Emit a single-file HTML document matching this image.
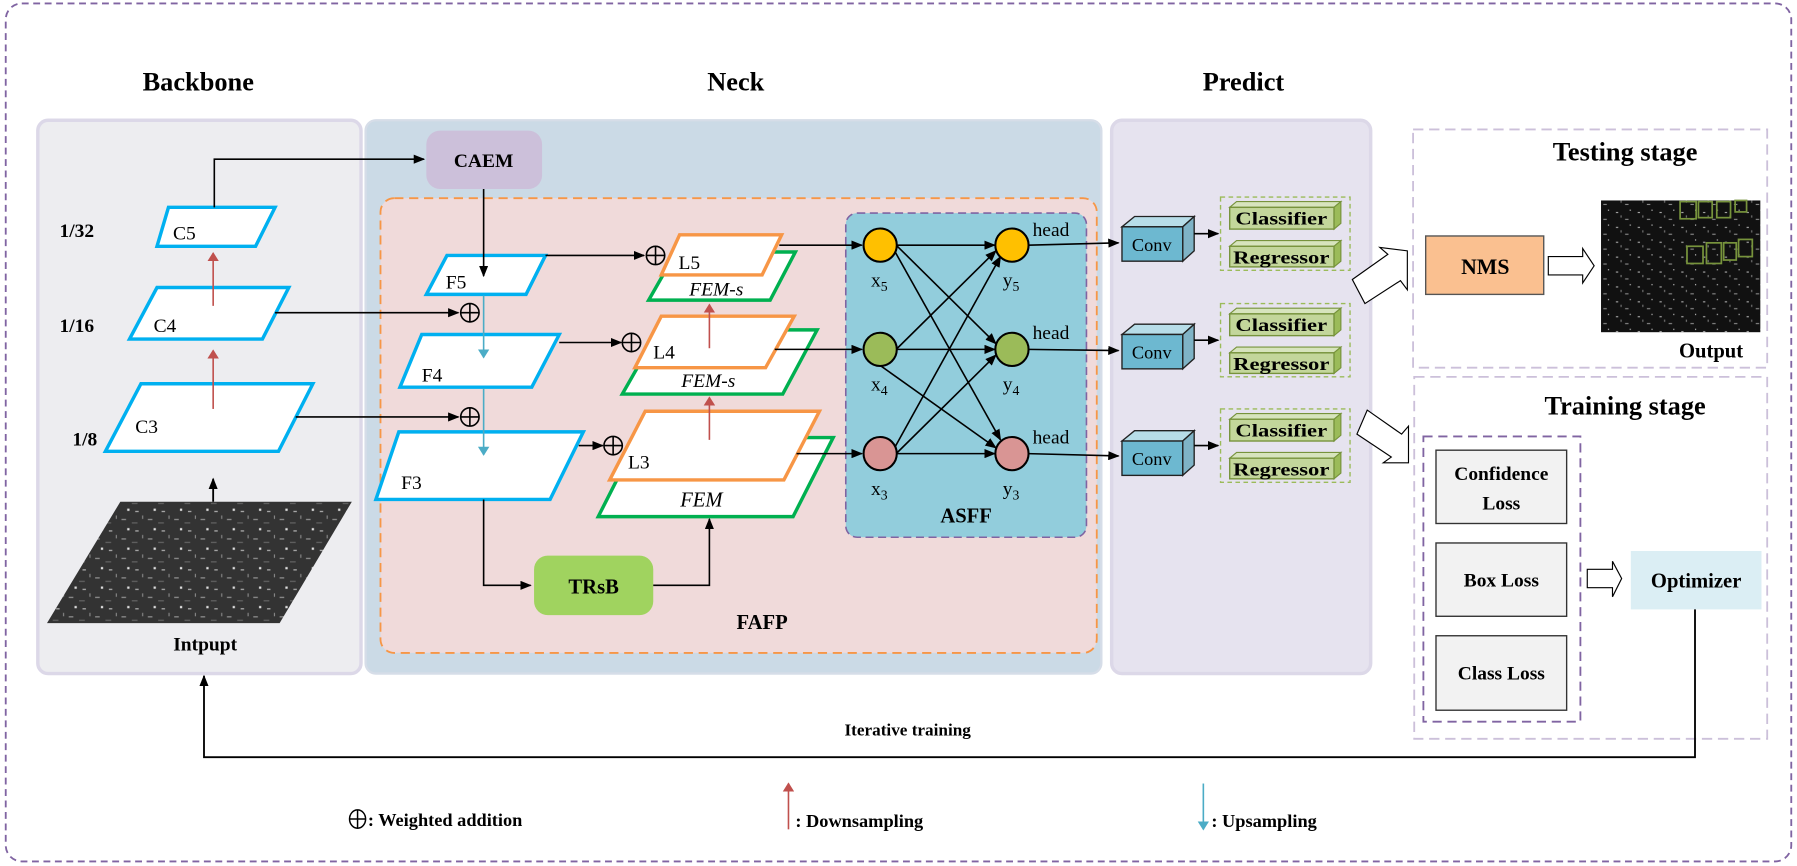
<!DOCTYPE html>
<html><head><meta charset="utf-8"><style>
html,body{margin:0;padding:0;background:#fff;}
svg{display:block;}
text{font-family:"Liberation Serif",serif;}
.b{font-weight:bold;}
</style></head><body>
<svg width="1797" height="866" viewBox="0 0 1568 756" preserveAspectRatio="none" xmlns="http://www.w3.org/2000/svg">
<defs>
<marker id="ar" markerWidth="10" markerHeight="8" refX="9" refY="4" orient="auto" markerUnits="userSpaceOnUse"><path d="M0,0 L10,4 L0,8 z" fill="#000"/></marker>
<marker id="arr" markerWidth="8" markerHeight="10" refX="7" refY="5" orient="auto" markerUnits="userSpaceOnUse"><path d="M0,0 L8,5 L0,10 z" fill="#c0504d"/></marker>
<marker id="arb" markerWidth="8" markerHeight="10" refX="7" refY="5" orient="auto" markerUnits="userSpaceOnUse"><path d="M0,0 L8,5 L0,10 z" fill="#4bacc6"/></marker>
<pattern id="sar" width="23" height="17" patternUnits="userSpaceOnUse"><rect width="23" height="17" fill="#333"/><rect x="3" y="4" width="3" height="1" fill="#bbb"/><rect x="14" y="11" width="4" height="1" fill="#999"/><rect x="9" y="8" width="1" height="3" fill="#888"/><rect x="19" y="2" width="2" height="2" fill="#ddd"/><rect x="0" y="14" width="5" height="1" fill="#666"/></pattern>
<pattern id="sar2" width="19" height="13" patternUnits="userSpaceOnUse"><rect width="19" height="13" fill="#111"/><rect x="4" y="3" width="2" height="1" fill="#aaa"/><rect x="12" y="9" width="3" height="1" fill="#888"/><rect x="8" y="6" width="1" height="2" fill="#777"/><rect x="16" y="1" width="1" height="1" fill="#ccc"/></pattern>
</defs>

<rect x="5" y="3" width="1558" height="749" rx="14" fill="none" stroke="#8064a2" stroke-width="1.6" stroke-dasharray="6,4"/>

<text x="173" y="79" class="b" font-size="23" text-anchor="middle">Backbone</text>
<text x="642" y="79" class="b" font-size="23" text-anchor="middle">Neck</text>
<text x="1085" y="79" class="b" font-size="23" text-anchor="middle">Predict</text>

<rect x="33" y="105" width="282" height="483" rx="9" fill="#ededf0" stroke="#dcd8e8" stroke-width="3"/>
<rect x="319" y="105" width="642" height="483" rx="9" fill="#cbdae6" stroke="#d6dde8" stroke-width="2"/>
<rect x="970" y="105" width="226" height="483" rx="9" fill="#e6e3ef" stroke="#dcd8e8" stroke-width="3"/>

<rect x="332" y="173" width="625" height="397" rx="12" fill="#f0dada" stroke="#f79646" stroke-width="1.6" stroke-dasharray="8,5"/>
<text x="665" y="549" class="b" font-size="18" text-anchor="middle">FAFP</text>

<text x="67" y="207" class="b" font-size="17" text-anchor="middle">1/32</text>
<text x="67" y="290" class="b" font-size="17" text-anchor="middle">1/16</text>
<text x="74" y="389" class="b" font-size="17" text-anchor="middle">1/8</text>

<polygon points="41,544 105,438 307,438 244,544" fill="url(#sar)"/>
<line x1="186" y1="438" x2="186" y2="418" stroke="#000" stroke-width="1.6" marker-end="url(#ar)"/>
<text x="179" y="568" class="b" font-size="17" text-anchor="middle">Intpupt</text>

<polygon points="123,335 273,335 243,394 92,394" fill="#fff" stroke="#00b0f0" stroke-width="3"/>
<text x="118" y="378" font-size="17">C3</text>
<polygon points="137,251 252,251 229,296 113,296" fill="#fff" stroke="#00b0f0" stroke-width="3"/>
<text x="134" y="290" font-size="17">C4</text>
<polygon points="147,181 240,181 223,215 137,215" fill="#fff" stroke="#00b0f0" stroke-width="3"/>
<text x="151" y="209" font-size="17">C5</text>
<line x1="186" y1="357" x2="186" y2="306" stroke="#c0504d" stroke-width="1.4" marker-end="url(#arr)"/>
<line x1="186" y1="267" x2="186" y2="221" stroke="#c0504d" stroke-width="1.4" marker-end="url(#arr)"/>

<polyline points="187,181 187,139 370,139" fill="none" stroke="#000" stroke-width="1.4" marker-end="url(#ar)"/>

<rect x="372" y="114" width="101" height="51" rx="12" fill="#ccc0da"/>
<text x="422" y="146" class="b" font-size="17" text-anchor="middle">CAEM</text>

<polygon points="390,223 476,223 459,257 372,257" fill="#fff" stroke="#00b0f0" stroke-width="3"/>
<text x="389" y="252" font-size="17">F5</text>
<polygon points="368,292 488,292 464,338 349,338" fill="#fff" stroke="#00b0f0" stroke-width="3"/>
<text x="368" y="333" font-size="17">F4</text>
<polygon points="348,377 509,377 480,436 328,436" fill="#fff" stroke="#00b0f0" stroke-width="3"/>
<text x="350" y="427" font-size="17">F3</text>
<line x1="422" y1="165" x2="422" y2="241" stroke="#000" stroke-width="1.4" marker-end="url(#ar)"/>
<line x1="422" y1="258" x2="422" y2="312" stroke="#4bacc6" stroke-width="1.4" marker-end="url(#arb)"/>
<line x1="422" y1="339" x2="422" y2="397" stroke="#4bacc6" stroke-width="1.4" marker-end="url(#arb)"/>

<line x1="240" y1="273" x2="400" y2="273" stroke="#000" stroke-width="1.4" marker-end="url(#ar)"/>
<line x1="258" y1="364" x2="400" y2="364" stroke="#000" stroke-width="1.4" marker-end="url(#ar)"/>
<g fill="none" stroke="#000" stroke-width="1.4">
<circle cx="410" cy="273" r="8"/><line x1="402" y1="273" x2="418" y2="273"/><line x1="410" y1="265" x2="410" y2="281"/>
<circle cx="410" cy="364" r="8"/><line x1="402" y1="364" x2="418" y2="364"/><line x1="410" y1="356" x2="410" y2="372"/>
</g>

<line x1="476" y1="223" x2="562" y2="223" stroke="#000" stroke-width="1.4" marker-end="url(#ar)"/>
<line x1="488" y1="299" x2="542" y2="299" stroke="#000" stroke-width="1.4" marker-end="url(#ar)"/>
<line x1="505" y1="389" x2="526" y2="389" stroke="#000" stroke-width="1.4" marker-end="url(#ar)"/>

<polyline points="422,436 422,511 463,511" fill="none" stroke="#000" stroke-width="1.4" marker-end="url(#ar)"/>
<rect x="466" y="485" width="104" height="52" rx="12" fill="#a0d35f"/>
<text x="518" y="518" class="b" font-size="18" text-anchor="middle">TRsB</text>
<polyline points="570,511 619,511 619,453" fill="none" stroke="#000" stroke-width="1.4" marker-end="url(#ar)"/>

<polygon points="557,382 727,382 692,451 522,451" fill="#fff" stroke="#00b050" stroke-width="3"/>
<text x="612" y="442" font-size="18" font-style="italic" text-anchor="middle">FEM</text>
<polygon points="563,359 715,359 684,419 532,419" fill="#fff" stroke="#f79646" stroke-width="3"/>
<text x="548" y="409" font-size="17">L3</text>

<polygon points="575,288 713,288 683,344 543,344" fill="#fff" stroke="#00b050" stroke-width="3"/>
<text x="618" y="338" font-size="17" font-style="italic" text-anchor="middle">FEM-s</text>
<polygon points="577,276 693,276 668,321 554,321" fill="#fff" stroke="#f79646" stroke-width="3"/>
<text x="570" y="313" font-size="17">L4</text>

<polygon points="590,220 694,220 672,262 566,262" fill="#fff" stroke="#00b050" stroke-width="3"/>
<text x="625" y="258" font-size="17" font-style="italic" text-anchor="middle">FEM-s</text>
<polygon points="593,205 682,205 665,240 577,240" fill="#fff" stroke="#f79646" stroke-width="3"/>
<text x="592" y="235" font-size="17">L5</text>

<line x1="619" y1="304" x2="619" y2="266" stroke="#c0504d" stroke-width="1.4" marker-end="url(#arr)"/>
<line x1="619" y1="384" x2="619" y2="347" stroke="#c0504d" stroke-width="1.4" marker-end="url(#arr)"/>

<g fill="none" stroke="#000" stroke-width="1.4">
<circle cx="572" cy="223" r="8"/><line x1="564" y1="223" x2="580" y2="223"/><line x1="572" y1="215" x2="572" y2="231"/>
<circle cx="551" cy="299" r="8"/><line x1="543" y1="299" x2="559" y2="299"/><line x1="551" y1="291" x2="551" y2="307"/>
<circle cx="535" cy="389" r="8"/><line x1="527" y1="389" x2="543" y2="389"/><line x1="535" y1="381" x2="535" y2="397"/>
</g>

<rect x="738" y="186" width="210" height="283" rx="10" fill="#92cddc" stroke="#8064a2" stroke-width="1.4" stroke-dasharray="7,4"/>
<text x="843" y="456" class="b" font-size="18" text-anchor="middle">ASFF</text>

<line x1="680" y1="214" x2="752" y2="214" stroke="#000" stroke-width="1.4" marker-end="url(#ar)"/>
<line x1="676" y1="305" x2="752" y2="305" stroke="#000" stroke-width="1.4" marker-end="url(#ar)"/>
<line x1="695" y1="396" x2="752" y2="396" stroke="#000" stroke-width="1.4" marker-end="url(#ar)"/>

<g stroke="#000" stroke-width="1.4" marker-end="url(#ar)">
<line x1="782" y1="214" x2="868" y2="214"/>
<line x1="782" y1="214" x2="869" y2="300"/>
<line x1="780" y1="218" x2="873" y2="384"/>
<line x1="782" y1="305" x2="869" y2="219"/>
<line x1="768" y1="305" x2="868" y2="305"/>
<line x1="768" y1="319" x2="869" y2="391"/>
<line x1="780" y1="392" x2="873" y2="224"/>
<line x1="782" y1="396" x2="869" y2="310"/>
<line x1="782" y1="396" x2="868" y2="396"/>
</g>

<g stroke="#000" stroke-width="1.8">
<circle cx="768" cy="214" r="14.5" fill="#ffc000"/>
<circle cx="883" cy="214" r="14.5" fill="#ffc000"/>
<circle cx="768" cy="305" r="14.5" fill="#9bbb59"/>
<circle cx="883" cy="305" r="14.5" fill="#9bbb59"/>
<circle cx="768" cy="396" r="14.5" fill="#d99594"/>
<circle cx="883" cy="396" r="14.5" fill="#d99594"/>
</g>
<g font-size="17">
<text x="760" y="250">x<tspan font-size="12" dy="4">5</tspan></text>
<text x="760" y="341">x<tspan font-size="12" dy="4">4</tspan></text>
<text x="760" y="432">x<tspan font-size="12" dy="4">3</tspan></text>
<text x="875" y="250">y<tspan font-size="12" dy="4">5</tspan></text>
<text x="875" y="341">y<tspan font-size="12" dy="4">4</tspan></text>
<text x="875" y="432">y<tspan font-size="12" dy="4">3</tspan></text>
<text x="901" y="206">head</text>
<text x="901" y="296">head</text>
<text x="901" y="387">head</text>
</g>

<line x1="897" y1="214" x2="976" y2="212" stroke="#000" stroke-width="1.4" marker-end="url(#ar)"/>
<line x1="897" y1="305" x2="976" y2="306" stroke="#000" stroke-width="1.4" marker-end="url(#ar)"/>
<line x1="897" y1="396" x2="976" y2="398" stroke="#000" stroke-width="1.4" marker-end="url(#ar)"/>

<g>
<polygon points="979,198 990,189 1042,189 1032,198" fill="#b7dde8" stroke="#222" stroke-width="1.2"/>
<polygon points="1032,198 1042,189 1042,219 1032,228" fill="#7fb3c6" stroke="#222" stroke-width="1.2"/>
<rect x="979" y="198" width="53" height="30" fill="#6db8d0" stroke="#222" stroke-width="1.2"/>
<text x="1005" y="219" font-size="16" text-anchor="middle">Conv</text>
</g>
<g transform="translate(0,94)">
<polygon points="979,198 990,189 1042,189 1032,198" fill="#b7dde8" stroke="#222" stroke-width="1.2"/>
<polygon points="1032,198 1042,189 1042,219 1032,228" fill="#7fb3c6" stroke="#222" stroke-width="1.2"/>
<rect x="979" y="198" width="53" height="30" fill="#6db8d0" stroke="#222" stroke-width="1.2"/>
<text x="1005" y="219" font-size="16" text-anchor="middle">Conv</text>
</g>
<g transform="translate(0,187)">
<polygon points="979,198 990,189 1042,189 1032,198" fill="#b7dde8" stroke="#222" stroke-width="1.2"/>
<polygon points="1032,198 1042,189 1042,219 1032,228" fill="#7fb3c6" stroke="#222" stroke-width="1.2"/>
<rect x="979" y="198" width="53" height="30" fill="#6db8d0" stroke="#222" stroke-width="1.2"/>
<text x="1005" y="219" font-size="16" text-anchor="middle">Conv</text>
</g>

<g>
<line x1="1042" y1="204" x2="1063" y2="204" stroke="#000" stroke-width="1.4" marker-end="url(#ar)"/>
<rect x="1065" y="172" width="113" height="64" fill="none" stroke="#9bbb59" stroke-width="1.2" stroke-dasharray="4,3"/>
<polygon points="1073,181 1079,176 1170,176 1164,181" fill="#d7e4bd" stroke="#77933c" stroke-width="1"/>
<polygon points="1164,181 1170,176 1170,195 1164,200" fill="#9bbb59" stroke="#77933c" stroke-width="1"/>
<rect x="1073" y="181" width="91" height="19" fill="#c3d69b" stroke="#77933c" stroke-width="1.2"/>
<text x="1118" y="196" class="b" font-size="16" text-anchor="middle" textLength="80" lengthAdjust="spacingAndGlyphs">Classifier</text>
<polygon points="1073,215 1079,210 1170,210 1164,215" fill="#d7e4bd" stroke="#77933c" stroke-width="1"/>
<polygon points="1164,215 1170,210 1170,228 1164,233" fill="#9bbb59" stroke="#77933c" stroke-width="1"/>
<rect x="1073" y="215" width="91" height="18" fill="#c3d69b" stroke="#77933c" stroke-width="1.2"/>
<text x="1118" y="230" class="b" font-size="16" text-anchor="middle" textLength="84" lengthAdjust="spacingAndGlyphs">Regressor</text>
</g>
<g transform="translate(0,93)">
<line x1="1042" y1="204" x2="1063" y2="204" stroke="#000" stroke-width="1.4" marker-end="url(#ar)"/>
<rect x="1065" y="172" width="113" height="64" fill="none" stroke="#9bbb59" stroke-width="1.2" stroke-dasharray="4,3"/>
<polygon points="1073,181 1079,176 1170,176 1164,181" fill="#d7e4bd" stroke="#77933c" stroke-width="1"/>
<polygon points="1164,181 1170,176 1170,195 1164,200" fill="#9bbb59" stroke="#77933c" stroke-width="1"/>
<rect x="1073" y="181" width="91" height="19" fill="#c3d69b" stroke="#77933c" stroke-width="1.2"/>
<text x="1118" y="196" class="b" font-size="16" text-anchor="middle" textLength="80" lengthAdjust="spacingAndGlyphs">Classifier</text>
<polygon points="1073,215 1079,210 1170,210 1164,215" fill="#d7e4bd" stroke="#77933c" stroke-width="1"/>
<polygon points="1164,215 1170,210 1170,228 1164,233" fill="#9bbb59" stroke="#77933c" stroke-width="1"/>
<rect x="1073" y="215" width="91" height="18" fill="#c3d69b" stroke="#77933c" stroke-width="1.2"/>
<text x="1118" y="230" class="b" font-size="16" text-anchor="middle" textLength="84" lengthAdjust="spacingAndGlyphs">Regressor</text>
</g>
<g transform="translate(0,185)">
<line x1="1042" y1="204" x2="1063" y2="204" stroke="#000" stroke-width="1.4" marker-end="url(#ar)"/>
<rect x="1065" y="172" width="113" height="64" fill="none" stroke="#9bbb59" stroke-width="1.2" stroke-dasharray="4,3"/>
<polygon points="1073,181 1079,176 1170,176 1164,181" fill="#d7e4bd" stroke="#77933c" stroke-width="1"/>
<polygon points="1164,181 1170,176 1170,195 1164,200" fill="#9bbb59" stroke="#77933c" stroke-width="1"/>
<rect x="1073" y="181" width="91" height="19" fill="#c3d69b" stroke="#77933c" stroke-width="1.2"/>
<text x="1118" y="196" class="b" font-size="16" text-anchor="middle" textLength="80" lengthAdjust="spacingAndGlyphs">Classifier</text>
<polygon points="1073,215 1079,210 1170,210 1164,215" fill="#d7e4bd" stroke="#77933c" stroke-width="1"/>
<polygon points="1164,215 1170,210 1170,228 1164,233" fill="#9bbb59" stroke="#77933c" stroke-width="1"/>
<rect x="1073" y="215" width="91" height="18" fill="#c3d69b" stroke="#77933c" stroke-width="1.2"/>
<text x="1118" y="230" class="b" font-size="16" text-anchor="middle" textLength="84" lengthAdjust="spacingAndGlyphs">Regressor</text>
</g>

<polygon points="1180,244 1211,222 1204,216 1228,219 1228,253 1222,245 1191,265" fill="#fff" stroke="#000" stroke-width="1"/>
<polygon points="1184,379 1214,399 1207,404 1229,404 1229,372 1223,379 1193,358" fill="#fff" stroke="#000" stroke-width="1"/>

<rect x="1233" y="113" width="309" height="208" fill="none" stroke="#ccc0da" stroke-width="1.6" stroke-dasharray="9,5"/>
<text x="1418" y="140" class="b" font-size="23" text-anchor="middle">Testing stage</text>
<rect x="1244" y="206" width="103" height="51" fill="#fac090" stroke="#555" stroke-width="1.2"/>
<text x="1296" y="239" class="b" font-size="19" text-anchor="middle">NMS</text>
<polygon points="1351,224 1381,224 1381,217 1391,232 1381,247 1381,240 1351,240" fill="#fff" stroke="#000" stroke-width="1"/>
<rect x="1397" y="175" width="139" height="115" fill="url(#sar2)"/>
<g fill="none" stroke="#77933c" stroke-width="1.5">
<rect x="1466" y="176" width="14" height="15"/><rect x="1482" y="176" width="12" height="14"/>
<rect x="1498" y="176" width="12" height="14"/><rect x="1514" y="175" width="10" height="10"/>
<rect x="1472" y="215" width="14" height="15"/><rect x="1489" y="212" width="13" height="18"/>
<rect x="1504" y="212" width="11" height="15"/><rect x="1517" y="209" width="12" height="15"/>
</g>
<text x="1493" y="312" class="b" font-size="18" text-anchor="middle">Output</text>

<rect x="1234" y="329" width="308" height="316" fill="none" stroke="#ccc0da" stroke-width="1.6" stroke-dasharray="9,5"/>
<text x="1418" y="362" class="b" font-size="23" text-anchor="middle">Training stage</text>
<rect x="1242" y="381" width="137" height="249" fill="none" stroke="#8064a2" stroke-width="1.6" stroke-dasharray="8,5"/>
<rect x="1253" y="393" width="114" height="64" fill="#f2f2f2" stroke="#333" stroke-width="1.2"/>
<text x="1310" y="419" class="b" font-size="17" text-anchor="middle">Confidence</text>
<text x="1310" y="445" class="b" font-size="17" text-anchor="middle">Loss</text>
<rect x="1253" y="474" width="114" height="64" fill="#f2f2f2" stroke="#333" stroke-width="1.2"/>
<text x="1310" y="512" class="b" font-size="17" text-anchor="middle">Box Loss</text>
<rect x="1253" y="555" width="114" height="65" fill="#f2f2f2" stroke="#333" stroke-width="1.2"/>
<text x="1310" y="593" class="b" font-size="17" text-anchor="middle">Class Loss</text>
<polygon points="1385,497 1407,497 1407,490 1415,505 1407,521 1407,513 1385,513" fill="#fff" stroke="#000" stroke-width="1"/>
<rect x="1423" y="481" width="114" height="51" fill="#dbeef4"/>
<text x="1480" y="513" class="b" font-size="18" text-anchor="middle">Optimizer</text>

<polyline points="1479,532 1479,661 178,661 178,590" fill="none" stroke="#000" stroke-width="1.6" marker-end="url(#ar)"/>
<text x="792" y="642" class="b" font-size="15" text-anchor="middle">Iterative training</text>

<g fill="none" stroke="#000" stroke-width="1.3">
<ellipse cx="312" cy="715" rx="7" ry="8"/><line x1="305" y1="715" x2="319" y2="715"/><line x1="312" y1="707" x2="312" y2="723"/>
</g>
<text x="321" y="721" class="b" font-size="16">: Weighted addition</text>
<line x1="688" y1="724" x2="688" y2="684" stroke="#c0504d" stroke-width="1.4" marker-end="url(#arr)"/>
<text x="694" y="722" class="b" font-size="16">: Downsampling</text>
<line x1="1050" y1="684" x2="1050" y2="724" stroke="#4bacc6" stroke-width="1.4" marker-end="url(#arb)"/>
<text x="1057" y="722" class="b" font-size="16">: Upsampling</text>
</svg>
</body></html>
